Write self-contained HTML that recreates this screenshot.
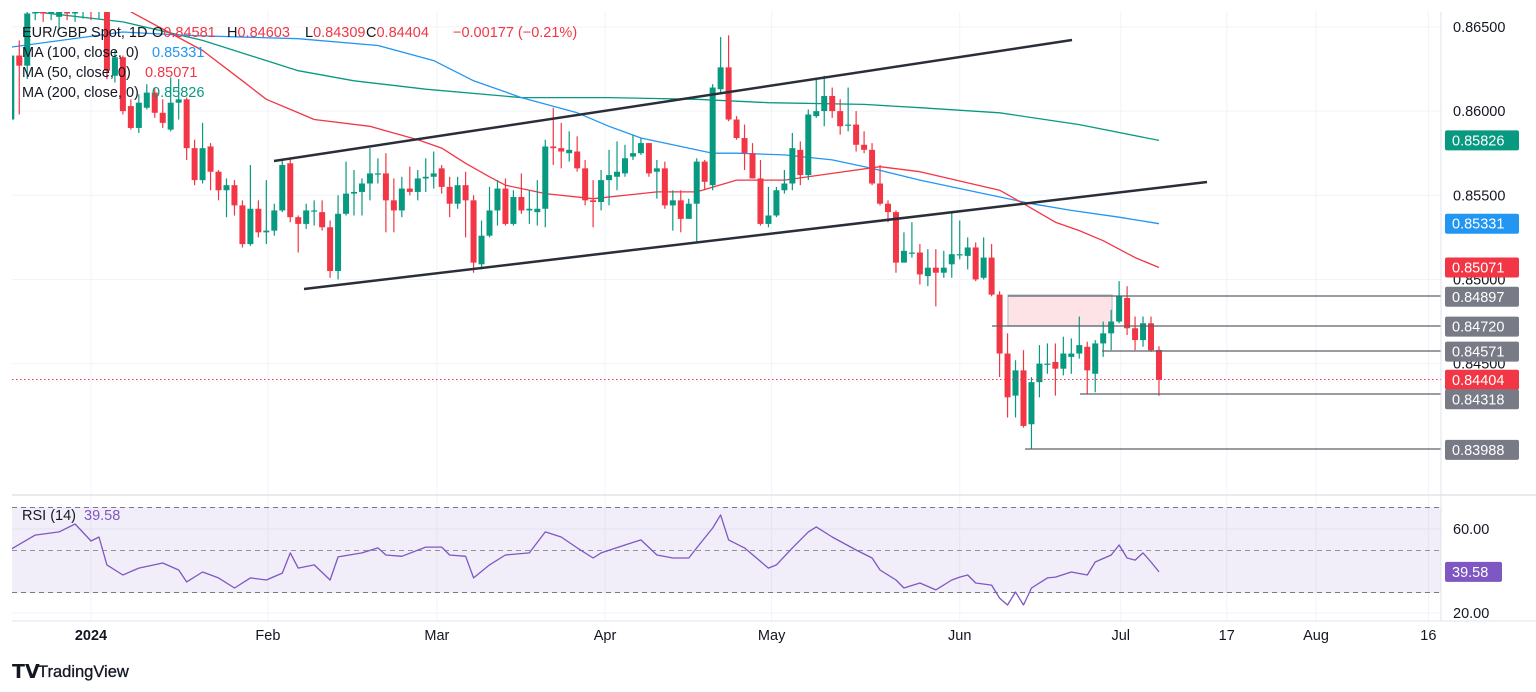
<!DOCTYPE html>
<html><head><meta charset="utf-8"><style>
html,body{margin:0;padding:0;background:#fff;width:1536px;height:692px;overflow:hidden}
svg{display:block;font-family:"Liberation Sans",sans-serif}
</style></head><body>
<svg id="chart" width="1536" height="692" viewBox="0 0 1536 692" xmlns="http://www.w3.org/2000/svg">
<defs>
<clipPath id="mainClip"><rect x="12" y="12" width="1429" height="482"/></clipPath>
<clipPath id="rsiClip"><rect x="12" y="497" width="1429" height="124"/></clipPath>
</defs>
<g id="grid"></g>
<g id="rsiBg">
<rect x="12" y="507" width="1429" height="86" fill="#7e57c2" fill-opacity="0.1"/>
<line x1="12" x2="1441" y1="507.5" y2="507.5" stroke="#787b86" stroke-dasharray="5,4"/>
<line x1="12" x2="1441" y1="550.5" y2="550.5" stroke="#787b86" stroke-opacity="0.8" stroke-dasharray="5,4"/>
<line x1="12" x2="1441" y1="592.5" y2="592.5" stroke="#787b86" stroke-dasharray="5,4"/>
</g>
<g id="main" clip-path="url(#mainClip)">
<rect x="1008" y="295" width="104" height="31" fill="#f23645" fill-opacity="0.14" stroke="#c8cad2" stroke-width="1.5"/>
<g id="mas"></g>
<g id="candles"></g>
<line x1="274" y1="161" x2="1072" y2="40" stroke="#2a2e39" stroke-width="2.5"/>
<line x1="304" y1="289" x2="1207" y2="182" stroke="#2a2e39" stroke-width="2.5"/>
<line x1="12" x2="1441" y1="379.5" y2="379.5" stroke="#f23645" stroke-dasharray="1.5,2.5"/>
<line x1="1008" x2="1441" y1="296" y2="296" stroke="#5d606b" stroke-width="1.2"/>
<line x1="992" x2="1441" y1="326" y2="326" stroke="#5d606b" stroke-width="1.2"/>
<line x1="1102" x2="1441" y1="351" y2="351" stroke="#5d606b" stroke-width="1.2"/>
<line x1="1080" x2="1441" y1="394" y2="394" stroke="#5d606b" stroke-width="1.2"/>
<line x1="1025" x2="1441" y1="449" y2="449" stroke="#5d606b" stroke-width="1.2"/>
</g>
<g id="rsi" clip-path="url(#rsiClip)"></g>
<line x1="12" x2="1536" y1="495" y2="495" stroke="#e0e3eb" stroke-width="1.5"/>
<line x1="12" x2="1536" y1="621" y2="621" stroke="#e0e3eb"/>
<line x1="1441" x2="1441" y1="12" y2="621" stroke="#e0e3eb"/>
<g id="axes"></g>
<g id="legend" font-size="14.5">
<text y="37" fill="#131722"><tspan x="22">EUR/GBP Spot, 1D</tspan><tspan x="152">O</tspan><tspan fill="#f23645">0.84581</tspan><tspan x="227">H</tspan><tspan fill="#f23645">0.84603</tspan><tspan x="305">L</tspan><tspan fill="#f23645">0.84309</tspan><tspan x="366">C</tspan><tspan fill="#f23645">0.84404</tspan><tspan x="453" fill="#f23645">−0.00177 (−0.21%)</tspan></text>
<text y="57" fill="#131722"><tspan x="22">MA (100, close, 0)</tspan><tspan x="152" fill="#2196f3">0.85331</tspan></text>
<text y="77" fill="#131722"><tspan x="22">MA (50, close, 0)</tspan><tspan x="145" fill="#f23645">0.85071</tspan></text>
<text y="97" fill="#131722"><tspan x="22">MA (200, close, 0)</tspan><tspan x="152" fill="#089981">0.85826</tspan></text>
<text y="520" fill="#131722"><tspan x="22">RSI (14)</tspan><tspan x="84" fill="#7e57c2">39.58</tspan></text>
</g>
<g>
<text x="12" y="678" font-size="19" font-weight="bold" fill="#131722">𝗧𝗩</text>
<text x="38" y="677" font-size="16.5" fill="#131722" stroke="#131722" stroke-width="0.3">TradingView</text>
</g>
</svg>
<script>
// price data in units of 0.0001, bar index starts at -10 (Dec 18 2023), index 0 = Jan 1 2024
const startIndex = -10;
const openPips = [8595,8633,8627,8658,8660,8658,8656,8659,8658,8659,
8660,8659,8660,8621,8632,8603,8590,8602,8611,8599,
8589,8605,8607,8578,8559,8579,8564,8553,8556,8544,
8521,8542,8528,8529,8541,8569,8537,8533,8541,8540,
8531,8505,8539,8551,8552,8557,8563,8563,8547,8541,
8554,8552,8560,8561,8566,8555,8545,8556,8547,8509,
8526,8541,8554,8533,8549,8541,8540,8542,8579,8578,
8575,8576,8566,8547,8546,8559,8561,8563,8573,8575,
8581,8564,8566,8544,8547,8536,8545,8570,8556,8613,
8626,8595,8584,8575,8560,8533,8538,8553,8557,8577,
8562,8597,8600,8609,8600,8592,8592,8580,8577,8557,
8545,8540,8510,8516,8516,8502,8507,8504,8509,8515,
8514,8519,8501,8513,8491,8456,8431,8446,8414,8439,
8450,8451,8447,8454,8456,8460,8444,8462,8468,8475,
8489,8471,8464,8474,8458.1];
const highPips = [8642,8642,8661,8663,8662,8662,8661,8661,8662,8664,
8663,8664,8663,8636,8633,8607,8610,8616,8614,8607,
8620,8619,8608,8583,8593,8581,8565,8560,8559,8547,
8568,8547,8559,8545,8571,8572,8538,8545,8547,8547,
8535,8550,8570,8565,8560,8578,8572,8575,8560,8561,
8567,8565,8572,8576,8568,8561,8561,8564,8550,8535,
8555,8559,8560,8553,8563,8553,8559,8583,8602,8593,
8588,8585,8571,8559,8565,8577,8582,8580,8586,8584,
8581,8571,8570,8553,8553,8548,8572,8571,8616,8644,
8645,8597,8592,8581,8571,8555,8555,8565,8587,8582,
8601,8620,8621,8614,8607,8614,8600,8588,8581,8568,
8547,8541,8528,8534,8521,8518,8518,8517,8540,8535,
8525,8522,8525,8521,8493,8468,8452,8458,8442,8461,
8462,8462,8466,8465,8478,8463,8464,8475,8482,8499,
8496,8478,8478,8478,8460.3];
const lowPips = [8592,8598,8619,8654,8653,8654,8648,8654,8653,8655,
8654,8655,8619,8617,8598,8589,8587,8601,8596,8590,
8588,8595,8571,8556,8557,8553,8547,8537,8538,8519,
8520,8525,8521,8526,8540,8534,8516,8530,8532,8529,
8501,8500,8538,8538,8538,8547,8557,8528,8528,8537,
8550,8547,8552,8554,8551,8537,8542,8525,8504,8506,
8525,8532,8532,8532,8539,8533,8532,8531,8568,8566,
8570,8564,8544,8531,8541,8544,8553,8561,8571,8574,
8561,8548,8542,8529,8528,8536,8522,8553,8553,8610,
8594,8583,8565,8560,8532,8531,8537,8551,8553,8556,
8559,8596,8591,8596,8586,8588,8576,8575,8556,8544,
8534,8504,8510,8513,8497,8496,8484,8501,8501,8512,
8506,8499,8500,8490,8442,8418,8418,8412,8399,8430,
8444,8431,8443,8444,8453,8432,8433,8454,8458,8474,
8467,8458,8460,8457,8430.9];
const closePips = [8633,8627,8658,8660,8658,8659,8659,8658,8659,8660,
8659,8660,8624,8632,8600,8590,8605,8611,8599,8593,
8605,8607,8578,8559,8578,8564,8553,8556,8544,8521,
8542,8528,8529,8541,8568,8537,8533,8541,8541,8531,
8505,8539,8551,8552,8557,8563,8563,8547,8541,8554,
8552,8560,8561,8563,8555,8545,8556,8547,8510,8526,
8541,8554,8533,8549,8541,8542,8542,8579,8578,8576,
8577,8566,8547,8546,8559,8562,8564,8572,8575,8581,
8563,8566,8544,8547,8536,8545,8570,8558,8614,8626,
8595,8584,8575,8560,8533,8538,8553,8557,8578,8562,
8598,8600,8609,8600,8591,8592,8580,8577,8557,8545,
8540,8510,8517,8516,8503,8507,8504,8507,8515,8515,
8519,8500,8513,8491,8456,8430,8446,8413,8439,8450,
8450,8447,8456,8456,8461,8446,8462,8468,8475,8490,
8471,8464,8474,8458,8440.4];
// moving averages: bar index and value (pips)
const ma50Idx = [2,5,14,19,22,25,28,35,41,44,47,50,52,57,63,71,76,81,87,93,99,104,114,117,121,124,127,131,134];
const ma50Val = [8669,8659,8636,8618,8607,8601,8595,8591,8583,8578,8569,8561,8556,8551,8548,8552,8552,8559,8559,8563,8567,8564,8553,8545,8534,8529,8523,8513,8507.1];
const ma100Idx = [-10,4,12,26,36,43,48,54,61,65,69,78,81,87,93,98,104,110,118,123,129,134];
const ma100Val = [8638,8647,8645,8643,8639,8630,8618,8608,8599,8591,8584,8575,8575,8574,8571,8566,8559,8553,8545,8541,8537,8533.1];
const ma200Idx = [-12,-7,4,14,26,33,42,54,65,76,85,97,104,114,124,134];
const ma200Val = [8668,8659,8653,8642,8624,8618,8613,8608,8608,8607,8605,8604,8602,8599,8592,8582.6];
// RSI(14)
const rsiIdx = [-10,-7,-4,-2,0,1,2,4,6,9,11,12,14,16,18,20,22,24,25,26,28,30,31,34,36,37,39,42,44,45,47,48,50,52,55,57,59,61,63,64,67,69,71,73,75,76,78,79,80,82,85,86,88,90,91,93,96,98,99,101,102,104,106,108,109,110,111,113,114,115,116,117,118,120,121,123,125,126,128,129,130,131,132,133,134];
const rsiVal = [50.5,57.1,58.6,62.4,54.3,56.2,42.9,38.1,41.4,43.8,40.5,34.8,39.5,36.7,31.9,36.7,35.7,39,48.6,41.4,42.9,35.7,46.7,48.6,51,47.6,47,51.4,51.4,47.6,47,36.7,42.9,47.6,48.6,58.6,56.2,51,46.2,48.6,52.4,54.8,47.6,46.2,46.2,51,60.5,66.7,54.8,51,41.4,42.9,51,58.6,61,56.2,50,46.2,40.5,35.7,31.9,34.3,31,35.7,37.1,38.1,34.3,33.3,27.1,23.8,30,23.8,31.9,36.7,37.1,39.5,38.1,44.3,47.6,52.4,46.2,45.2,48.6,44.3,39.58];
const priceTicks = [0.865,0.86,0.855,0.85,0.845];
const timeLabels = ["2024","Feb","Mar","Apr","May","Jun","Jul","17","Aug","16"];
const timeIdx = [0,22.2,43.4,64.5,85.4,109,129.2,142.5,153.7,167.8];
const tagLabels = ["0.85826","0.85331","0.85071","0.84897","0.84720","0.84571","0.84404","0.84318","0.83988"];
const tagPrices = [0.85826,0.85331,0.85071,0.84897,0.84720,0.84571,0.84404,0.84318,0.83988];

const NS = "http://www.w3.org/2000/svg";
const xOf = i => 91 + 7.97 * i;
const yOfPips = n => (8666 - n) / 0.594;
const yOfPrice = p => yOfPips(p * 10000);
const yRsi = v => 571 - (v - 40) * 2.1;
function mk(tag, attrs, parent) {
  const el = document.createElementNS(NS, tag);
  for (const k in attrs) el.setAttribute(k, attrs[k]);
  parent.appendChild(el);
  return el;
}
const grid = document.getElementById('grid');
priceTicks.forEach(p => {
  const l = mk('line', {x1: 12, x2: 1441, y1: yOfPrice(p), y2: yOfPrice(p), stroke: '#f0f3fa', 'stroke-width': 1}, grid);
  
  
});
timeIdx.forEach(i => {
  const l = mk('line', {x1: xOf(i), x2: xOf(i), y1: 12, y2: 621, stroke: '#f0f3fa', 'stroke-width': 1}, grid);
  
  
});
const rsiGrid = [60, 20];
rsiGrid.forEach(v => {
  const l = mk('line', {x1: 12, x2: 1441, y1: yRsi(v), y2: yRsi(v), stroke: '#f0f3fa'}, grid);
  
  
});

const mas = document.getElementById('mas');
function maLine(idx, val, color, name) {
  const pts = idx.map((i, k) => xOf(i).toFixed(1) + ',' + yOfPips(val[k]).toFixed(1)).join(' ');
  const pl = mk('polyline', {points: pts, fill: 'none', stroke: color, 'stroke-width': 1.3, 'stroke-linejoin': 'round'}, mas);
  
  
}
maLine(ma200Idx, ma200Val, '#089981', 'ma200-line');
maLine(ma100Idx, ma100Val, '#2196f3', 'ma100-line');
maLine(ma50Idx, ma50Val, '#f23645', 'ma50-line');

const cg = document.getElementById('candles');
closePips.forEach((c, k) => {
  const i = startIndex + k;
  const o = openPips[k], h = highPips[k], l = lowPips[k];
  const up = c >= o;
  const col = up ? '#089981' : '#f23645';
  const x = xOf(i);
  const g = mk('g', {}, cg);
  
  
  mk('line', {x1: x, x2: x, y1: yOfPips(h), y2: yOfPips(l), stroke: col, 'stroke-width': 1.2}, g);
  const top = yOfPips(Math.max(o, c)), bot = yOfPips(Math.min(o, c));
  mk('rect', {x: x - 3, y: top, width: 6, height: Math.max(1.2, bot - top), fill: col}, g);
});

const rg = document.getElementById('rsi');
const rpts = rsiIdx.map((i, k) => xOf(i).toFixed(1) + ',' + yRsi(rsiVal[k]).toFixed(1)).join(' ');
const rl = mk('polyline', {points: rpts, fill: 'none', stroke: '#7e57c2', 'stroke-width': 1.3, 'stroke-linejoin': 'round'}, rg);



const ax = document.getElementById('axes');
priceTicks.forEach(p => {
  const t = mk('text', {x: 1453, y: yOfPrice(p) + 5, 'font-size': 14.5, fill: '#131722'}, ax);
  t.textContent = p.toFixed(5);
  
  
});
rsiGrid.forEach(v => {
  const t = mk('text', {x: 1453, y: yRsi(v) + 5, 'font-size': 14.5, fill: '#131722'}, ax);
  t.textContent = v.toFixed(2);
  
  
});
timeLabels.forEach((s, k) => {
  const t = mk('text', {x: xOf(timeIdx[k]), y: 640, 'font-size': 14.5, fill: '#131722', 'text-anchor': 'middle', 'font-weight': s === '2024' ? 'bold' : 'normal'}, ax);
  t.textContent = s;
  
  
});
const tagColors = ['#089981','#2196f3','#f23645','#787b86','#787b86','#787b86','#f23645','#787b86','#787b86'];
const tagShift = [0,0,0,0,0,0,0,5,0];
tagLabels.forEach((s, k) => {
  const y = yOfPrice(tagPrices[k]) + tagShift[k];
  const g = mk('g', {}, ax);
  
  
  mk('rect', {x: 1445, y: y - 10, width: 74, height: 20, rx: 2, fill: tagColors[k]}, g);
  const t = mk('text', {x: 1452, y: y + 5, 'font-size': 14.5, fill: '#fff'}, g);
  t.textContent = s;
});
const rsiTag = mk('g', {}, ax);


mk('rect', {x: 1445, y: yRsi(39.58) - 10, width: 57, height: 20, rx: 2, fill: '#7e57c2'}, rsiTag);
const rt = mk('text', {x: 1452, y: yRsi(39.58) + 5, 'font-size': 14.5, fill: '#fff'}, rsiTag);
rt.textContent = '39.58';
</script>
</body></html>
